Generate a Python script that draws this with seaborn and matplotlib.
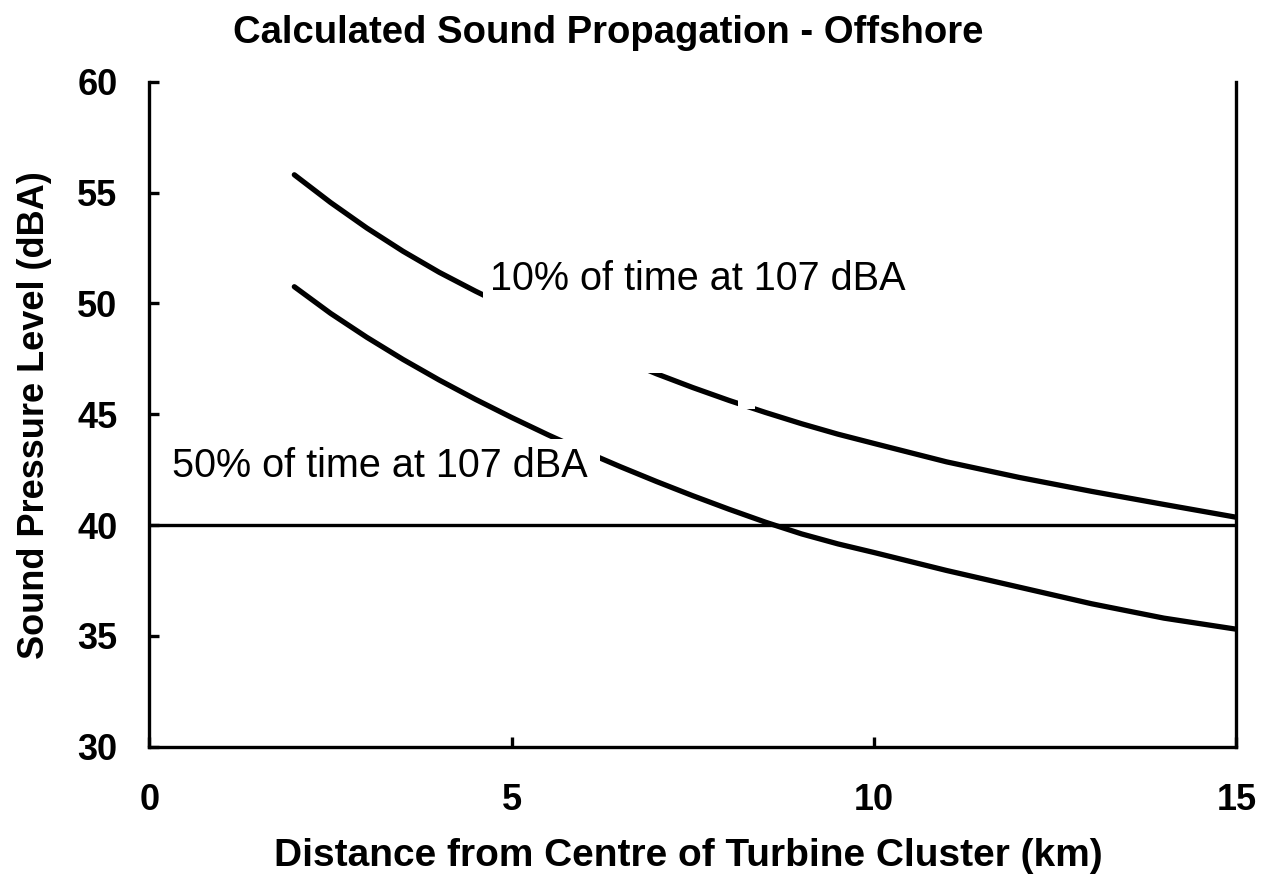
import numpy as np
import pandas as pd
import matplotlib
matplotlib.use("Agg")
import matplotlib.pyplot as plt
from matplotlib.patches import Rectangle
import seaborn as sns

# values
dist_km = [2, 2.5, 3, 3.5, 4, 4.5, 5, 5.5, 6, 6.5, 7, 7.5, 8, 8.5, 9, 9.5,
           10, 11, 12, 13, 14, 15]
spl_10pct = [55.8, 54.55, 53.4, 52.35, 51.4, 50.55, 49.75, 48.98, 48.25,
             47.5, 46.82, 46.2, 45.62, 45.08, 44.57, 44.1, 43.68, 42.85,
             42.15, 41.52, 40.93, 40.35]
spl_50pct = [50.75, 49.55, 48.47, 47.47, 46.54, 45.67, 44.85, 44.07, 43.33,
             42.63, 41.96, 41.32, 40.71, 40.13, 39.6, 39.15, 38.76, 37.95,
             37.2, 36.45, 35.8, 35.3]
series_names = ["10% of time at 107 dBA", "50% of time at 107 dBA"]
limit_dba = 40

x_ticks = [0, 5, 10, 15]
y_ticks = [30, 35, 40, 45, 50, 55, 60]

sns.set_style("ticks")
plt.rcParams["font.family"] = ["Liberation Sans", "DejaVu Sans"]
plt.rcParams["text.color"] = "black"

df = pd.DataFrame({
    "dist": dist_km * 2,
    "spl": spl_10pct + spl_50pct,
    "case": [series_names[0]] * len(dist_km) + [series_names[1]] * len(dist_km),
})

fig = plt.figure(figsize=(12.63, 8.75), dpi=100)
ax = fig.add_axes([149.4 / 1263, 1 - 746.7 / 875, 1087 / 1263, 665 / 875])

sns.lineplot(data=df, x="dist", y="spl", hue="case",
             palette=["black", "black"], linewidth=3.8, legend=False,
             ax=ax, zorder=2, solid_capstyle="round", solid_joinstyle="round")
ax.axhline(limit_dba, color="black", lw=2.4, zorder=2)

# white label boxes that hide parts of the curves, as in the original
for (x0, y0, w, h) in [(4.6, 46.85, 8.0, 5.8), (8.12, 45.25, 0.24, 0.8),
                       (0.2, 41.0, 6.02, 2.9)]:
    ax.add_patch(Rectangle((x0, y0), w, h, facecolor="white",
                           edgecolor="none", zorder=3))

ax.text(4.70, 50.6, series_names[0], fontsize=28.5, va="baseline",
        ha="left", color="black", zorder=4)
ax.text(0.31, 42.18, series_names[1], fontsize=28.5, va="baseline",
        ha="left", color="black", zorder=4)

ax.set_xlim(0, 15); ax.set_ylim(30, 60)
ax.set_xticks(x_ticks); ax.set_yticks(y_ticks)
ax.set_xlabel(""); ax.set_ylabel("")
for side in ("left", "bottom", "right"):
    ax.spines[side].set_linewidth(2.4)
    ax.spines[side].set_color("black")
ax.spines["top"].set_visible(False)
ax.tick_params(direction="in", length=7, width=2.4, labelsize=26,
               colors="black")
ax.tick_params(axis="x", pad=26)
ax.tick_params(axis="y", pad=23)
for lab in ax.get_xticklabels() + ax.get_yticklabels():
    lab.set_fontweight("bold")

fig.text(608 / 1263, 1 - 33 / 875, "Calculated Sound Propagation - Offshore",
         fontsize=27.5, fontweight="bold", ha="center", va="center")
fig.text(688.5 / 1263, 1 - 856 / 875,
         "Distance from Centre of Turbine Cluster (km)",
         fontsize=28, fontweight="bold", ha="center", va="center")
fig.text(35 / 1263, 1 - 415 / 875, "Sound Pressure Level (dBA)",
         fontsize=26, fontweight="bold", ha="center", va="center", rotation=90)

fig.savefig("out.png", dpi=100)
